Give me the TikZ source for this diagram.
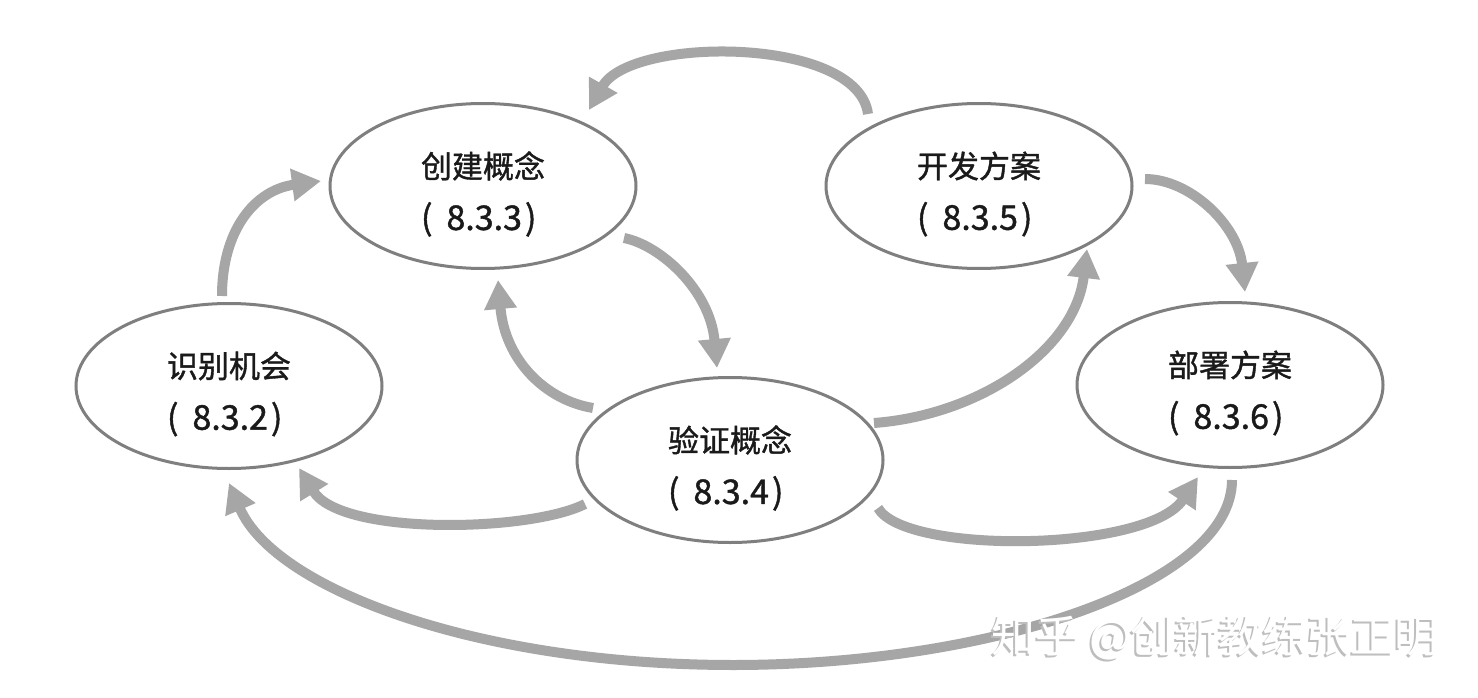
\documentclass[tikz,border=0pt]{standalone}
\usepackage{fontspec}
\newfontfamily\cjk[FakeBold=1.2]{Noto Sans CJK SC}
\newfontfamily\cjkwm{Noto Sans CJK SC}
\usetikzlibrary{arrows.meta,shapes.geometric,calc}
\definecolor{arrgray}{HTML}{A6A6A6}
\definecolor{edgegray}{HTML}{7F7F7F}
\definecolor{txtcol}{HTML}{1A1A1A}
\definecolor{wmshadow}{HTML}{BEBEBE}
\newcommand{\numline}[1]{{\fontsize{34}{52}\selectfont(\hspace{14pt}#1\hspace{3pt})}}
\begin{document}
\begin{tikzpicture}[x=1pt,y=-1pt,
  stage/.style={ellipse, draw=edgegray, line width=3pt, fill=white,
    minimum width=306pt, minimum height=165pt, inner sep=0pt},
  stagetext/.style={align=left, text=txtcol, inner sep=0pt,
    font=\cjk\fontsize{31}{52}\selectfont},
  flow/.style={draw=arrgray, line width=10pt,
    -{Triangle[width=31pt,length=29pt]}},
  wm/.style={font=\cjkwm\fontsize{44}{44}\selectfont, inner sep=0pt}
]
\useasboundingbox (0,0) rectangle (1478,698);
\fill[white] (0,0) rectangle (1478,698);

\node[stage] (cj) at (483,186) {};
\node[stage] (kf) at (979,186) {};
\node[stage] (sb) at (229,386) {};
\node[stage] (bs) at (1230,385) {};
\node[stage] (yz) at (730,460) {};

\node[stagetext] (cjt) at ($(cj.center)+(0,8)$) {创建概念\\\numline{8.3.3}};
\node[stagetext] (kft) at ($(kf.center)+(0,8)$) {开发方案\\\numline{8.3.5}};
\node[stagetext] (sbt) at ($(sb.center)+(0,8)$) {识别机会\\\numline{8.3.2}};
\node[stagetext] (bst) at ($(bs.center)+(0,8)$) {部署方案\\\numline{8.3.6}};
\node[stagetext] (yzt) at ($(yz.center)+(0,8)$) {验证概念\\\numline{8.3.4}};

% kf -> cj (top arc)
\draw[flow] ($(kf.center)+(-111,-72)$) .. controls (858,36) and (631,36) .. ($(cj.center)+(106,-76)$);
% kf -> bs
\draw[flow] ($(kf.center)+(166,-7)$) .. controls (1190,179) and (1238,225) .. ($(bs.center)+(15,-93)$);
% cj -> yz
\draw[flow] ($(cj.center)+(141,52)$) .. controls (660,245) and (710,290) .. ($(yz.center)+(-13,-92)$);
% yz -> cj
\draw[flow] ($(yz.center)+(-137,-52)$) .. controls (545,400) and (505,360) .. ($(cj.center)+(15,94)$);
% sb -> cj
\draw[flow] ($(sb.center)+(-7,-90)$) .. controls (222,230) and (255,190) .. ($(cj.center)+(-162,-5)$);
% yz -> kf
\draw[flow] ($(yz.center)+(144,-37)$) .. controls (980,415) and (1075,350) .. ($(kf.center)+(108,63)$);
% yz -> sb
\draw[flow] ($(yz.center)+(-145,44)$) .. controls (530,532) and (341,536) .. ($(sb.center)+(70,82)$);
% yz -> bs
\draw[flow] ($(yz.center)+(148,48)$) .. controls (905,555) and (1148,552) .. ($(bs.center)+(-32,92)$);
% bs -> sb (big bottom arc)
\coordinate (low) at (733,665);
\draw[flow] ($(bs.center)+(2,95)$) .. controls (1232,585) and (990,665) .. (low)
  .. controls (480,665) and (275,590) .. ($(sb.center)+(0,97)$);

% watermark
\node[wm, text=wmshadow] (wmshade) at (1213,640) {知乎 @创新教练张正明};
\node[wm, text=white] (wmtext) at (1215,638) {知乎 @创新教练张正明};
\end{tikzpicture}
\end{document}
